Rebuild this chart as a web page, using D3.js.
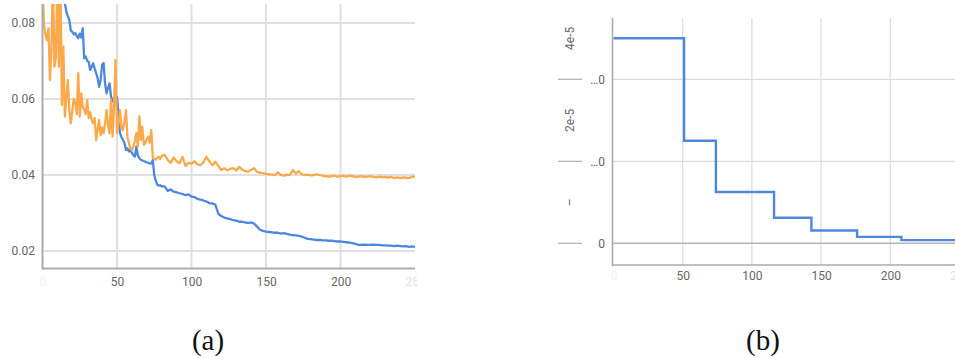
<!DOCTYPE html>
<html>
<head>
<meta charset="utf-8">
<script src="https://cdn.jsdelivr.net/npm/d3@7"></script>
<style>
  html, body { margin: 0; padding: 0; background: #fff; }
  svg { display: block; }
  .tick-label { font-family: Roboto, "Noto Sans", sans-serif; font-size: 12px; fill: #666; }
  .caption { font-family: "Liberation Serif", "DejaVu Serif", serif; font-size: 29px; fill: #111; }
</style>
</head>
<body>
<svg id="fig" width="955" height="358"></svg>
<script>
// ---- (a) loss curves ----
// epochs sampled every step up to 80, then every 2 steps
const lossEpochs = d3.range(0, 81).concat(d3.range(82, 251, 2));

const trainLoss = [
  0.128, 0.122, 0.117, 0.113, 0.109, 0.106, 0.103, 0.100, 0.098, 0.096,
  0.094, 0.092, 0.090, 0.088, 0.0868, 0.0852, 0.083, 0.0818, 0.0808, 0.0780,
  0.0777, 0.0770, 0.0773, 0.0765, 0.0760, 0.0772, 0.0762, 0.0786, 0.0707, 0.0712,
  0.0700, 0.0698, 0.0676, 0.0685, 0.0694, 0.0680, 0.0668, 0.0655, 0.0632, 0.0650,
  0.0690, 0.0695, 0.0640, 0.0615, 0.0630, 0.0641, 0.0606, 0.0598, 0.0589, 0.0595,
  0.0606, 0.0560, 0.0510, 0.0500, 0.0492, 0.0485, 0.0466, 0.0470, 0.0462, 0.0467,
  0.0458, 0.0452, 0.0448, 0.0475, 0.0452, 0.0444, 0.0440, 0.0438, 0.0437, 0.0435,
  0.0433, 0.0432, 0.0430, 0.0430, 0.0440, 0.0400, 0.0385, 0.0375, 0.0372, 0.0373,
  0.0370,
  0.0370, 0.0358, 0.0362, 0.0356, 0.0354, 0.0352, 0.0350, 0.0347, 0.0349, 0.0343,
  0.0342, 0.0337, 0.0335, 0.0333, 0.0330, 0.0326, 0.0325, 0.0322, 0.0298, 0.0292,
  0.0288, 0.0286, 0.0284, 0.0281, 0.0280, 0.0277, 0.0277, 0.0275, 0.0274, 0.0275,
  0.0272, 0.0264, 0.0256, 0.0253, 0.0251, 0.0250, 0.0249, 0.0248, 0.0248, 0.0246,
  0.0247, 0.0245, 0.0243, 0.0242, 0.0241, 0.0240, 0.0238, 0.0235, 0.0232, 0.0231,
  0.0230, 0.0229, 0.0229, 0.0228, 0.0228, 0.0227, 0.0227, 0.0226, 0.0225, 0.0225,
  0.0224, 0.0223, 0.0222, 0.0221, 0.0219, 0.0216, 0.0216, 0.0217, 0.0216, 0.0216,
  0.0217, 0.0216, 0.0216, 0.0215, 0.0215, 0.0214, 0.0214, 0.0213, 0.0214, 0.0213,
  0.0212, 0.0213, 0.0211, 0.0212, 0.0211
];

const valLoss = [
  0.090, 0.0795, 0.077, 0.0755, 0.0786, 0.065, 0.0729, 0.092, 0.0685, 0.071,
  0.094, 0.0685, 0.095, 0.0584, 0.0738, 0.0554, 0.060, 0.065, 0.057, 0.0536,
  0.057, 0.0600, 0.0589, 0.056, 0.0668, 0.0554, 0.0615, 0.058, 0.0571, 0.056,
  0.0597, 0.055, 0.0565, 0.0545, 0.0536, 0.055, 0.0492, 0.052, 0.0545, 0.0505,
  0.0525, 0.051, 0.0535, 0.0571, 0.053, 0.051, 0.0597, 0.0501, 0.058, 0.0703,
  0.051, 0.0535, 0.0571, 0.0525, 0.0518, 0.054, 0.0571, 0.050, 0.0484, 0.047,
  0.0466, 0.0475, 0.049, 0.051, 0.0475, 0.0554, 0.0492, 0.0527, 0.048, 0.0484,
  0.0495, 0.0501, 0.0485, 0.0518, 0.0448, 0.0442, 0.044, 0.0445, 0.0448, 0.0442,
  0.045,
  0.0453, 0.0440, 0.0432, 0.0446, 0.0436, 0.0431, 0.0448, 0.0424, 0.0432, 0.0430,
  0.0436, 0.0428, 0.0426, 0.0433, 0.0448, 0.0436, 0.0426, 0.0435, 0.0424, 0.0413,
  0.0418, 0.0412, 0.0416, 0.0418, 0.0412, 0.0422, 0.0414, 0.0410, 0.0409, 0.0414,
  0.0418, 0.0408, 0.0406, 0.0405, 0.0403, 0.0402, 0.0401, 0.0400, 0.0407, 0.0400,
  0.0398, 0.0401, 0.0400, 0.0413, 0.0404, 0.0410, 0.0402, 0.0400, 0.0401, 0.0399,
  0.0400, 0.0402, 0.0400, 0.0398, 0.0397, 0.0396, 0.0397, 0.0398, 0.0396, 0.0397,
  0.0398, 0.0396, 0.0398, 0.0397, 0.0395, 0.0396, 0.0397, 0.0395, 0.0396, 0.0397,
  0.0395, 0.0394, 0.0396, 0.0394, 0.0395, 0.0393, 0.0395, 0.0392, 0.0394, 0.0392,
  0.0394, 0.0393, 0.0392, 0.0395, 0.0396
];

const lossYTicks = [0.02, 0.04, 0.06, 0.08];
const lossXTicks = [0, 50, 100, 150, 200, 250];

// ---- (b) learning-rate schedule ----
const lrEpochs = [0, 51, 74, 116, 143, 176, 208, 250];
const lrValues = [5e-5, 2.5e-5, 1.25e-5, 6.25e-6, 3.125e-6, 1.5625e-6, 7.8e-7, 7.8e-7];
const lrYTicks = [0, 2e-5, 4e-5];
const lrYTickText = ["0", "\u20260", "\u20260"];
const lrSideLabels = ["\u2013", "2e-5", "4e-5"];
const lrXTicks = [0, 50, 100, 150, 200, 250];

const captions = ["(a)", "(b)"];

const BLUE = "#4c88e0";
const ORANGE = "#fca94c";
const GRID = "#e0e0e0";
const AXIS = "#ababab";

const svg = d3.select("#fig");
const defs = svg.append("defs");

// ================= panel (a) =================
{
  const left = 42.5, right = 415, top = 4, bottom = 268.5;
  const x = d3.scaleLinear().domain([0, 250]).range([left, right]);
  const y = d3.scaleLinear().domain([0.02, 0.08]).range([251, 23]);

  defs.append("clipPath").attr("id", "clipA")
    .append("rect").attr("x", left).attr("y", top).attr("width", right - left + 1).attr("height", bottom - top);
  defs.append("clipPath").attr("id", "clipAx")
    .append("rect").attr("x", 0).attr("y", 0).attr("width", right + 2).attr("height", 358);

  const g = svg.append("g");

  // grid
  g.append("g").selectAll("line").data(lossXTicks.filter(d => d > 0 && d < 250)).join("line")
    .attr("x1", d => x(d)).attr("x2", d => x(d)).attr("y1", top).attr("y2", bottom)
    .attr("stroke", GRID).attr("stroke-width", 2);
  g.append("g").selectAll("line").data(lossYTicks).join("line")
    .attr("x1", left).attr("x2", right).attr("y1", d => y(d)).attr("y2", d => y(d))
    .attr("stroke", GRID).attr("stroke-width", 2);

  // series
  const line = d3.line().x((d, i) => x(lossEpochs[i])).y(d => y(d));
  const plot = g.append("g").attr("clip-path", "url(#clipA)");
  plot.append("path").datum(trainLoss).attr("d", line)
    .attr("fill", "none").attr("stroke", BLUE).attr("stroke-width", 2.3).attr("stroke-linejoin", "round");
  plot.append("path").datum(valLoss).attr("d", line)
    .attr("fill", "none").attr("stroke", ORANGE).attr("stroke-width", 2.3).attr("stroke-linejoin", "round");

  // axes
  g.append("line").attr("x1", left).attr("x2", left).attr("y1", top).attr("y2", bottom + 1)
    .attr("stroke", AXIS).attr("stroke-width", 2);
  g.append("line").attr("x1", left).attr("x2", right).attr("y1", bottom).attr("y2", bottom)
    .attr("stroke", AXIS).attr("stroke-width", 2);

  // y labels
  const yAxis = d3.axisLeft(y).tickValues(lossYTicks).tickFormat(d3.format(".2f")).tickSize(0).tickPadding(0);
  const ya = g.append("g").attr("transform", `translate(${35},0)`).call(yAxis);
  ya.select(".domain").remove();
  ya.selectAll("text").attr("class", "tick-label").attr("fill", null);

  // x labels (edge labels fade out)
  const xAxis = d3.axisBottom(x).tickValues(lossXTicks).tickSize(0).tickPadding(0);
  const xa = g.append("g").attr("transform", `translate(0,${277})`).attr("clip-path", "url(#clipAx)").call(xAxis);
  xa.select(".domain").remove();
  xa.selectAll("text").attr("class", "tick-label").attr("fill", null)
    .style("fill", d => d === 0 ? "#f2f2f2" : d === 250 ? "#e4e4e4" : "#666");
}

// ================= panel (b) =================
{
  const left = 612.5, top = 18, bottom = 265;
  const x = d3.scaleLinear().domain([0, 250]).range([613.5, 959.5]);
  const y = d3.scaleLinear().domain([0, 2e-5]).range([243.3, 161.3]);

  defs.append("clipPath").attr("id", "clipB")
    .append("rect").attr("x", left).attr("y", top).attr("width", 955 - left).attr("height", bottom - top);

  const g = svg.append("g");

  // grid
  g.append("g").selectAll("line").data(lrXTicks.filter(d => d > 0 && d < 250)).join("line")
    .attr("x1", d => x(d)).attr("x2", d => x(d)).attr("y1", top).attr("y2", bottom)
    .attr("stroke", "#dcdcdc").attr("stroke-width", 1.2);
  g.append("g").selectAll("line").data(lrYTicks).join("line")
    .attr("x1", left).attr("x2", 955).attr("y1", d => y(d)).attr("y2", d => y(d))
    .attr("stroke", d => d === 0 ? "#b4b4b4" : "#dcdcdc").attr("stroke-width", d => d === 0 ? 1.6 : 1.2);

  // schedule
  const line = d3.line().curve(d3.curveStepAfter).x((d, i) => x(lrEpochs[i])).y(d => y(d));
  g.append("g").attr("clip-path", "url(#clipB)")
    .append("path").datum(lrValues).attr("d", line)
    .attr("fill", "none").attr("stroke", BLUE).attr("stroke-width", 2.4);

  // axes
  g.append("line").attr("x1", left).attr("x2", left).attr("y1", top).attr("y2", bottom + 1)
    .attr("stroke", AXIS).attr("stroke-width", 1.6);
  g.append("line").attr("x1", left).attr("x2", 955).attr("y1", bottom).attr("y2", bottom)
    .attr("stroke", AXIS).attr("stroke-width", 1.6);

  // truncated tick labels
  const yAxis = d3.axisLeft(y).tickValues(lrYTicks).tickFormat((d, i) => lrYTickText[i]).tickSize(0).tickPadding(0);
  const ya = g.append("g").attr("transform", `translate(${605},0)`).call(yAxis);
  ya.select(".domain").remove();
  ya.selectAll("text").attr("class", "tick-label").attr("fill", null);

  // side marks and rotated labels
  g.append("g").selectAll("line").data(lrYTicks).join("line")
    .attr("x1", 558).attr("x2", 582).attr("y1", d => y(d)).attr("y2", d => y(d))
    .attr("stroke", "#b0b0b0").attr("stroke-width", 1.2);
  g.append("g").selectAll("text").data(lrYTicks).join("text")
    .attr("class", "tick-label")
    .attr("transform", d => `translate(574,${y(d) - 41}) rotate(-90)`)
    .attr("text-anchor", "middle")
    .text((d, i) => lrSideLabels[i]);

  const xAxis = d3.axisBottom(x).tickValues(lrXTicks).tickSize(0).tickPadding(0);
  const xa = g.append("g").attr("transform", `translate(0,${271})`).call(xAxis);
  xa.select(".domain").remove();
  xa.selectAll("text").attr("class", "tick-label").attr("fill", null)
    .style("fill", d => d === 0 ? "#f2f2f2" : d === 250 ? "#e2e2e2" : "#666");
}

// ================= captions =================
svg.append("g").selectAll("text").data(captions).join("text")
  .attr("class", "caption")
  .attr("x", (d, i) => [208, 763][i])
  .attr("y", 350)
  .attr("text-anchor", "middle")
  .text(d => d);
</script>
</body>
</html>
